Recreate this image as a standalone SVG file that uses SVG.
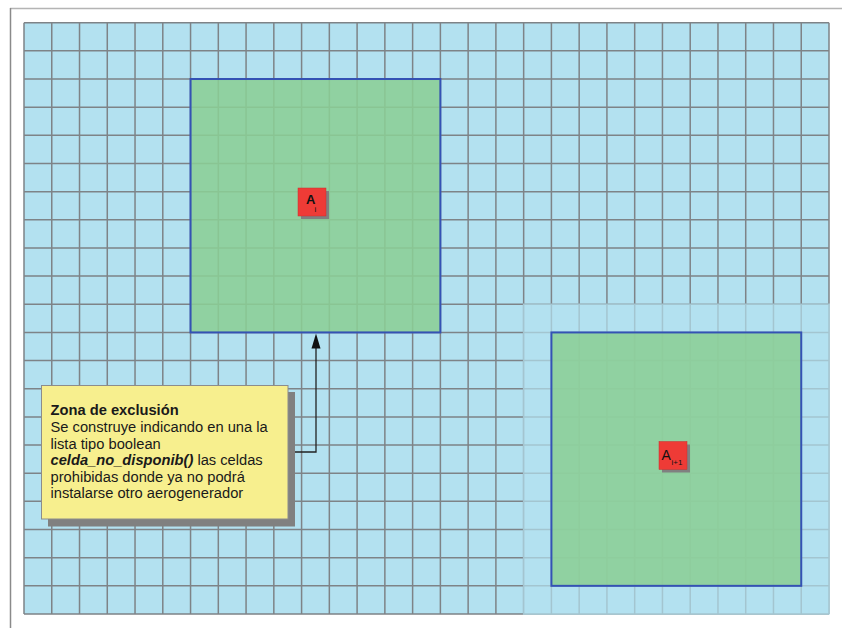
<svg xmlns="http://www.w3.org/2000/svg" width="842" height="628" viewBox="0 0 842 628">
<defs>
<style>
.grid{fill:none;stroke:#7e8387;stroke-width:1.5}
.zone{fill:#8bce95;fill-opacity:0.88;stroke:#3452b4;stroke-width:2}
.node{fill:#ee3b36;stroke:#c83030;stroke-width:0.5}
.shadow{fill:#808080}
.lbl{font-family:"Liberation Sans",Arial,sans-serif;fill:#111}
.note{font-family:"Liberation Sans",Arial,sans-serif;font-size:14.7px;fill:#1a1a1a}
.conn{fill:none;stroke:#222;stroke-width:1.3}
</style>
</defs>
<rect width="842" height="628" fill="#ffffff"/>
<path d="M10 8.5H842" stroke="#b4b4b4" stroke-width="1.5"/>
<path d="M10.5 8V628" stroke="#8a8a8a" stroke-width="1.5"/>
<g id="grid">
<rect x="24" y="22.7" width="805" height="591.3" fill="#b3e1f0"/>
<path class="grid" d="M24 22.7V614M51.76 22.7V614M79.52 22.7V614M107.28 22.7V614M135.03 22.7V614M162.79 22.7V614M190.55 22.7V614M218.31 22.7V614M246.07 22.7V614M273.83 22.7V614M301.59 22.7V614M329.34 22.7V614M357.1 22.7V614M384.86 22.7V614M412.62 22.7V614M440.38 22.7V614M468.14 22.7V614M495.9 22.7V614M523.66 22.7V614M551.41 22.7V614M579.17 22.7V614M606.93 22.7V614M634.69 22.7V614M662.45 22.7V614M690.21 22.7V614M717.97 22.7V614M745.72 22.7V614M773.48 22.7V614M801.24 22.7V614M829 22.7V614
M24 22.7H829M24 50.86H829M24 79.01H829M24 107.17H829M24 135.33H829M24 163.49H829M24 191.64H829M24 219.8H829M24 247.96H829M24 276.11H829M24 304.27H829M24 332.43H829M24 360.58H829M24 388.74H829M24 416.9H829M24 445.06H829M24 473.21H829M24 501.37H829M24 529.53H829M24 557.68H829M24 585.84H829M24 614H829"/>
<rect x="522.9" y="303.5" width="307" height="311.3" fill="#b3e1f0" fill-opacity="0.7"/>
</g>
<g id="zone1"><rect class="zone" x="190.55" y="79.01" width="249.83" height="253.42"/></g>
<g id="zone2"><rect class="zone" x="551.41" y="332.43" width="249.83" height="253.41"/></g>
<g id="nodeAi">
<rect class="shadow" x="301" y="191" width="28" height="28"/>
<rect class="node" x="298" y="188" width="28" height="28"/>
<text class="lbl" x="306" y="204" font-size="13" font-weight="bold">A</text>
<text class="lbl" x="314.5" y="212" font-size="8">i</text>
</g>
<g id="nodeAi1">
<rect class="shadow" x="662" y="444.5" width="28" height="28"/>
<rect class="node" x="659" y="441.5" width="28" height="28"/>
<text class="lbl" x="661.5" y="459.5" font-size="14">A</text>
<text class="lbl" x="671.5" y="464.5" font-size="8">i+1</text>
</g>
<g id="connectors">
<path class="conn" d="M295 452H316V347"/>
<polygon points="316,333.5 311.5,348.5 320.5,348.5" fill="#111"/>
</g>
<g id="note">
<rect class="shadow" x="48" y="392" width="247" height="134.5"/>
<rect x="41.5" y="385.5" width="246.5" height="133.5" fill="#f7ef8e" stroke="#8c8c8c" stroke-width="1"/>
<text class="note" x="50.5" y="415" font-weight="bold">Zona de exclusión</text>
<text class="note" x="50.5" y="432">Se construye indicando en una la</text>
<text class="note" x="50.5" y="448.5">lista tipo boolean</text>
<text class="note" x="50.5" y="465"><tspan font-weight="bold" font-style="italic">celda_no_disponib()</tspan> las celdas</text>
<text class="note" x="50.5" y="481.5">prohibidas donde ya no podrá</text>
<text class="note" x="50.5" y="498">instalarse otro aerogenerador</text>
</g>
</svg>
